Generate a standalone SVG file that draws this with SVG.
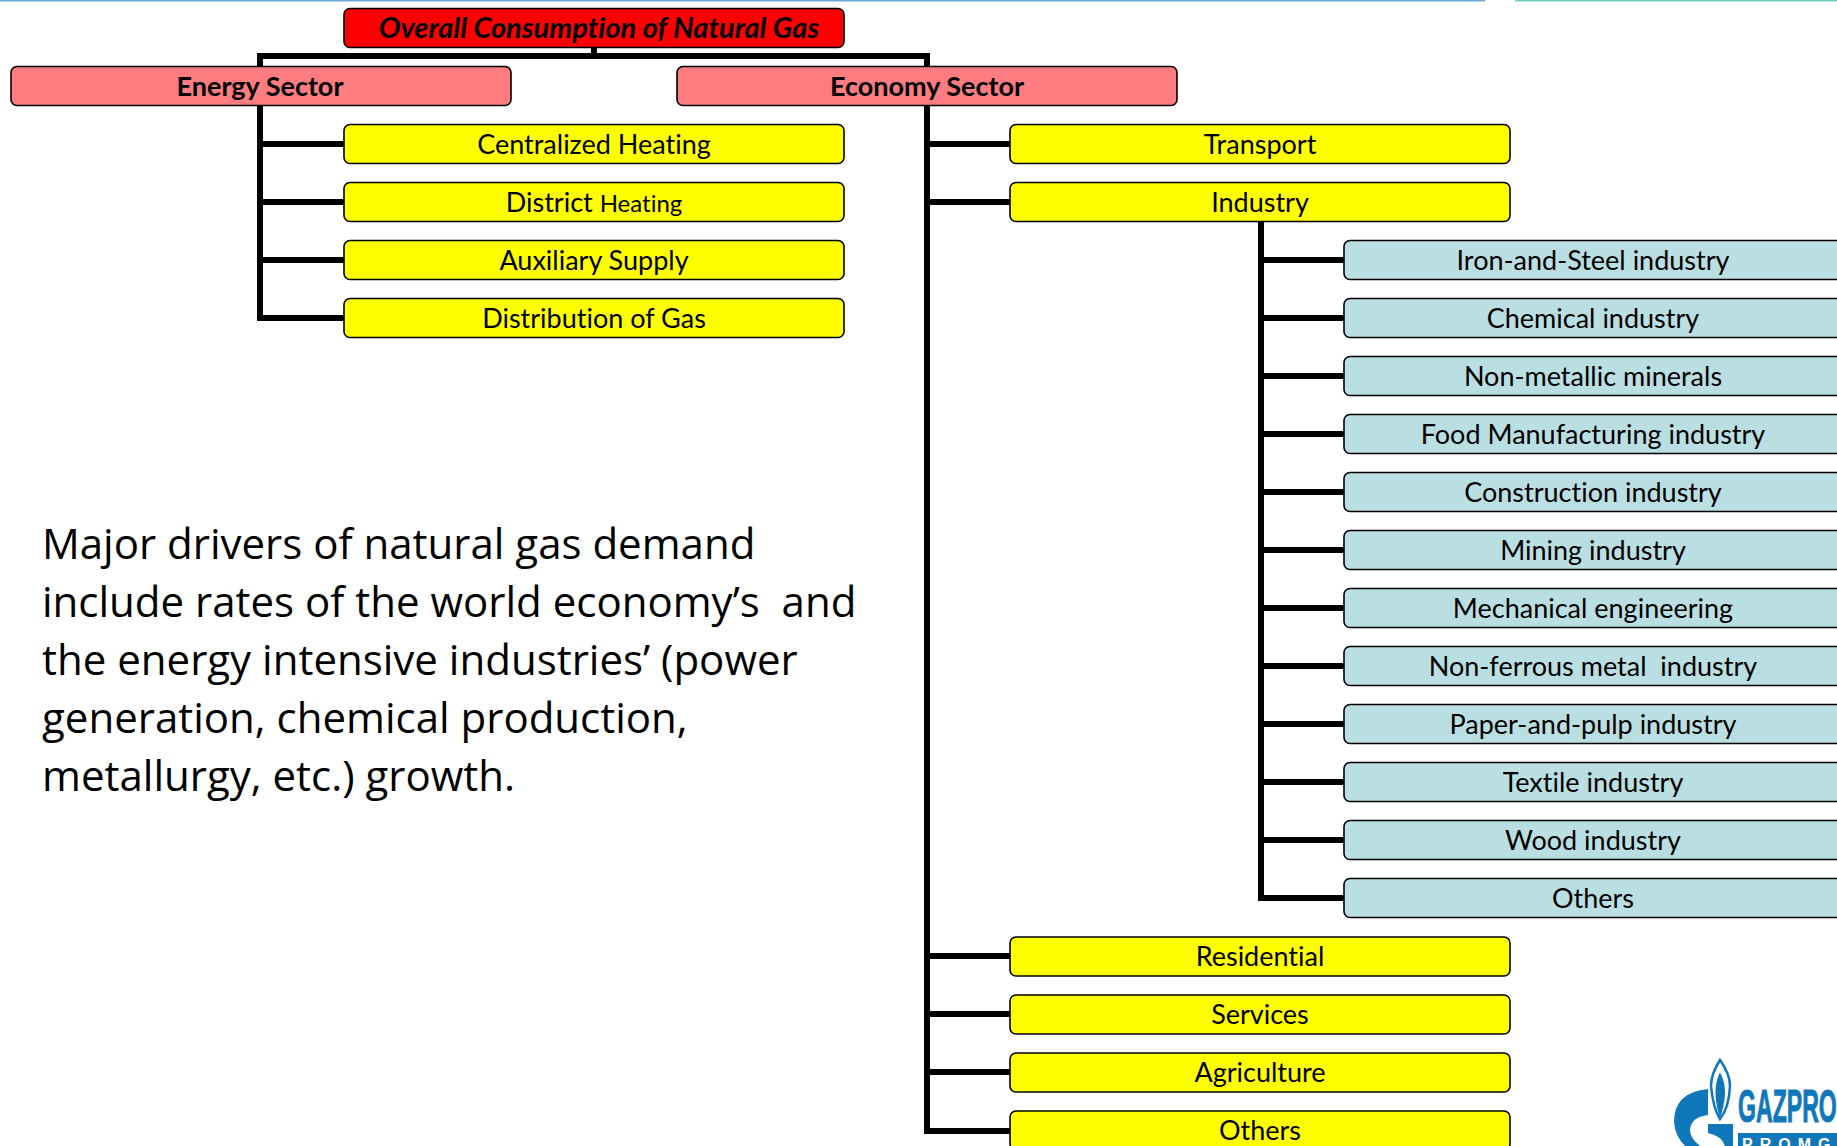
<svg xmlns="http://www.w3.org/2000/svg" width="1837" height="1146" viewBox="0 0 1837 1146">
<style>
text{font-family:Lato,"Liberation Sans",sans-serif;font-size:27px;fill:#000;text-anchor:middle;font-variant-ligatures:none}
.n rect{stroke:#000;stroke-width:1.6}
.y rect{fill:#ff0}.t rect{fill:#b9dfe3}.p rect{fill:#ff7c80}.r rect{fill:#f00}
.b text{font-weight:700}.r text{font-weight:700;font-style:italic;font-size:29px}
.c{fill:none;stroke:#000;stroke-width:6}
.para{font-family:"Open Sans",sans-serif;font-size:42px;text-anchor:start}
</style>
<rect width="1837" height="1146" fill="#fff"/>
<rect id="rule1" width="1485" height="1.5" fill="#6fa8dc"/>
<rect id="rule2" x="1515" width="322" height="1.5" fill="#6fd0c4"/>
<g id="connectors" class="c">
<path d="M594 47V59M260 66V56H927V66"/>
<path d="M260 105V318H344M260 144H344M260 202H344M260 260H344"/>
<path d="M927 105V1131H1010M927 144H1010M927 202H1010M927 956H1010M927 1014H1010M927 1072H1010"/>
<path d="M1261 221V898H1344M1261 260H1344M1261 318H1344M1261 376H1344M1261 434H1344M1261 492H1344M1261 550H1344M1261 608H1344M1261 666H1344M1261 724H1344M1261 782H1344M1261 840H1344"/>
</g>
<g id="root" class="n r"><rect x="344" y="8.5" width="500" height="39" rx="6"/><text x="599" y="38">Overall Consumption of Natural Gas</text></g>
<g id="energy" class="n p b"><rect x="11" y="66.5" width="500" height="39" rx="6"/><text x="260" y="96">Energy Sector</text></g>
<g id="economy" class="n p b"><rect x="677" y="66.5" width="500" height="39" rx="6"/><text x="927" y="96">Economy Sector</text></g>
<g id="centralized" class="n y"><rect x="344" y="124.5" width="500" height="39" rx="6"/><text x="594" y="154">Centralized Heating</text></g>
<g id="district" class="n y"><rect x="344" y="182.5" width="500" height="39" rx="6"/><text x="594" y="212">District <tspan font-size="24">Heating</tspan></text></g>
<g id="auxiliary" class="n y"><rect x="344" y="240.5" width="500" height="39" rx="6"/><text x="594" y="270">Auxiliary Supply</text></g>
<g id="distribution" class="n y"><rect x="344" y="298.5" width="500" height="39" rx="6"/><text x="594" y="328">Distribution of Gas</text></g>
<g id="transport" class="n y"><rect x="1010" y="124.5" width="500" height="39" rx="6"/><text x="1260" y="154">Transport</text></g>
<g id="industry" class="n y"><rect x="1010" y="182.5" width="500" height="39" rx="6"/><text x="1260" y="212">Industry</text></g>
<g id="iron" class="n t"><rect x="1344" y="240.5" width="510" height="39" rx="6"/><text x="1593" y="270">Iron-and-Steel industry</text></g>
<g id="chemical" class="n t"><rect x="1344" y="298.5" width="510" height="39" rx="6"/><text x="1593" y="328">Chemical industry</text></g>
<g id="minerals" class="n t"><rect x="1344" y="356.5" width="510" height="39" rx="6"/><text x="1593" y="386">Non-metallic minerals</text></g>
<g id="food" class="n t"><rect x="1344" y="414.5" width="510" height="39" rx="6"/><text x="1593" y="444">Food Manufacturing industry</text></g>
<g id="construction" class="n t"><rect x="1344" y="472.5" width="510" height="39" rx="6"/><text x="1593" y="502">Construction industry</text></g>
<g id="mining" class="n t"><rect x="1344" y="530.5" width="510" height="39" rx="6"/><text x="1593" y="560">Mining industry</text></g>
<g id="mechanical" class="n t"><rect x="1344" y="588.5" width="510" height="39" rx="6"/><text x="1593" y="618">Mechanical engineering</text></g>
<g id="nonferrous" class="n t"><rect x="1344" y="646.5" width="510" height="39" rx="6"/><text x="1593" y="676" xml:space="preserve">Non-ferrous metal  industry</text></g>
<g id="paper" class="n t"><rect x="1344" y="704.5" width="510" height="39" rx="6"/><text x="1593" y="734">Paper-and-pulp industry</text></g>
<g id="textile" class="n t"><rect x="1344" y="762.5" width="510" height="39" rx="6"/><text x="1593" y="792">Textile industry</text></g>
<g id="wood" class="n t"><rect x="1344" y="820.5" width="510" height="39" rx="6"/><text x="1593" y="850">Wood industry</text></g>
<g id="others-industry" class="n t"><rect x="1344" y="878.5" width="510" height="39" rx="6"/><text x="1593" y="908">Others</text></g>
<g id="residential" class="n y"><rect x="1010" y="937" width="500" height="39" rx="6"/><text x="1260" y="966">Residential</text></g>
<g id="services" class="n y"><rect x="1010" y="995" width="500" height="39" rx="6"/><text x="1260" y="1024">Services</text></g>
<g id="agriculture" class="n y"><rect x="1010" y="1053" width="500" height="39" rx="6"/><text x="1260" y="1082">Agriculture</text></g>
<g id="others" class="n y"><rect x="1010" y="1111" width="500" height="39" rx="6"/><text x="1260" y="1140">Others</text></g>
<g id="paragraph">
<text class="para" x="42" y="559">Major drivers of natural gas demand</text>
<text class="para" x="42" y="617" xml:space="preserve">include rates of the world economy’s  and</text>
<text class="para" x="42" y="675">the energy intensive industries’ (power</text>
<text class="para" x="42" y="733">generation, chemical production,</text>
<text class="para" x="42" y="791">metallurgy, etc.) growth.</text>
</g>
<g id="logo">
<path d="M1708 1089Q1674 1092 1674 1122Q1675 1136 1685 1146H1700Q1690 1138 1690 1130Q1691 1117 1708 1115Z" fill="#1177bb"/>
<path d="M1708 1124H1733V1146H1725Q1722 1136 1708 1133Z" fill="#1177bb"/>
<path d="M1720 1060Q1711 1074 1711 1086Q1713 1108 1720 1119Q1729 1108 1730 1086Q1730 1074 1720 1060Z" fill="none" stroke="#1177bb" stroke-width="2.5"/>
<path d="M1720 1076Q1714 1090 1720 1113Q1727 1090 1720 1076Z" fill="#1177bb" stroke="#1177bb" stroke-width="3"/>
<text x="1738" y="1122" textLength="118" lengthAdjust="spacingAndGlyphs" style="font-family:'Liberation Sans',sans-serif;font-weight:700;font-size:46px;fill:#1177bb;stroke:#1177bb;stroke-width:1;text-anchor:start">GAZPROM</text>
<rect x="1738" y="1133" width="99" height="13" fill="#1177bb"/>
<text x="1742" y="1150" style="font-family:'Liberation Sans',sans-serif;font-weight:700;font-size:16px;letter-spacing:7px;fill:#fff;text-anchor:start">PROMGAZ</text>
</g>
</svg>
